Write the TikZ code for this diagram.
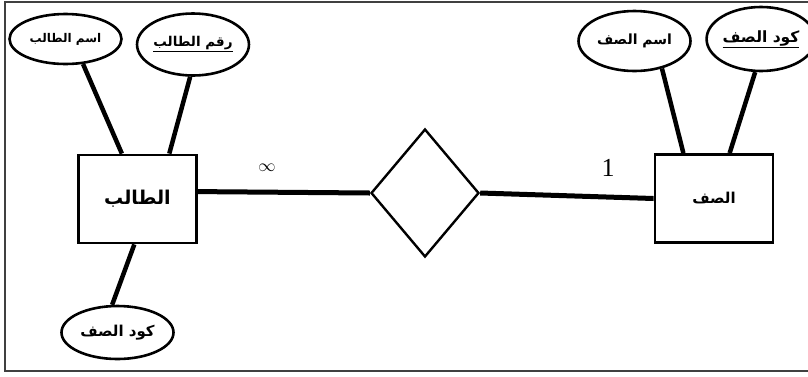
\documentclass[tikz,border=0pt]{standalone}
\usepackage{fontspec}
\usepackage{tikz}
\usetikzlibrary{shapes.geometric}
\setmainfont{Liberation Serif}
\newfontfamily\arabicfont[Script=Arabic]{DejaVu Sans}
\TeXXeTstate=1
\newcommand{\arkey}[1]{\underline{\hbox{\beginR #1\endR}}}

\begin{document}
\begin{tikzpicture}[x=1pt,y=-1pt,
    entity/.style={draw,line width=2.8pt,minimum width=118pt,minimum height=88pt,inner sep=0pt,
      font=\arabicfont\bfseries\fontsize{19}{22}\selectfont},
    attr/.style={draw,ellipse,line width=2.6pt,inner sep=0pt,
      font=\arabicfont\bfseries\fontsize{12}{14}\selectfont},
    relbox/.style={draw,diamond,line width=2.4pt,minimum width=108pt,minimum height=128pt,inner sep=0pt},
    link/.style={line width=4.5pt},
    card/.style={inner sep=0pt}]
  \useasboundingbox (0,0) rectangle (808,376);
  \draw[line width=1.4pt,black!75] (5,2) rectangle (815,371);

  % entities and relationship
  \node[entity] (stu) at (137.5,199) {\beginR الطالب\endR};
  \node[entity,font=\arabicfont\bfseries\fontsize{15}{17}\selectfont] (cls) at (714,198.5) {\beginR الصف\endR};
  \node[relbox] (rel) at (425,193) {};

  % attributes
  \node[attr,minimum width=112pt,minimum height=50pt] (stuName) at (65.5,39) {\beginR اسم الطالب\endR};
  \node[attr,minimum width=108pt,minimum height=62pt,font=\arabicfont\bfseries\fontsize{13.5}{15}\selectfont] (stuId) at (193,44.5) {\arkey{رقم الطالب}};
  \node[attr,minimum width=112pt,minimum height=53pt,font=\arabicfont\bfseries\fontsize{15}{17}\selectfont] (stuCls) at (117.5,332.5) {\beginR كود الصف\endR};
  \node[attr,minimum width=112pt,minimum height=60pt,font=\arabicfont\bfseries\fontsize{14}{16}\selectfont] (clsName) at (634.5,41) {\beginR اسم الصف\endR};
  \node[attr,minimum width=108pt,minimum height=64pt,font=\arabicfont\bfseries\fontsize{15.5}{17}\selectfont] (clsId) at (761,39) {\arkey{كود الصف}};

  % cardinalities
  \node[card,font=\fontsize{19}{21}\selectfont] (many) at (267,168) {$\infty$};
  \node[card,font=\fontsize{26}{28}\selectfont] (one) at (608,168) {1};

  % connectors
  \draw[link] (stuName.-55) -- (stu.109);
  \draw[link] (stuId.-95) -- (stu.55);
  \draw[link] (stuCls.101) -- (stu.266);
  \draw[link] (clsName.-45) -- (cls.124);
  \draw[link] (clsId.-100) -- (cls.71);
  \draw[link,line width=5pt] (stu.7) -- (rel.west);
  \draw[link,line width=5pt] (rel.east) -- (cls.west);
\end{tikzpicture}
\end{document}
